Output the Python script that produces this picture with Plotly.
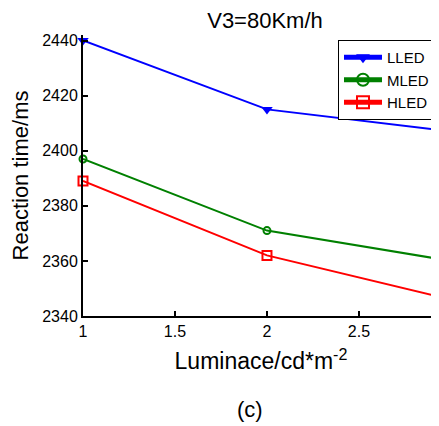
import plotly.graph_objects as go

luminance = [1, 2, 3]
lled = [2440, 2415, 2407]
mled = [2397, 2371, 2360]
hled = [2389, 2362, 2346]
x_ticks = [1, 1.5, 2, 2.5]
y_ticks = [2340, 2360, 2380, 2400, 2420, 2440]

FONT = "Liberation Sans, Arial, sans-serif"
# page has an 8px body margin, so the figure is sized to fit the window after it
OFF = 8
W, H = 439 - OFF, 426 - OFF
L, R, T, B = 83 - OFF, 0, 35 - OFF, 110
PLOT_H = H - T - B
PLOT_W = W - L - R
BOTTOM = H - B


def py(screen_y):
    return (BOTTOM - (screen_y - OFF)) / PLOT_H


def px(screen_x):
    return (screen_x - OFF - L) / PLOT_W


fig = go.Figure()
fig.add_trace(go.Scatter(x=luminance, y=lled, name="LLED", mode="lines+markers",
                         line=dict(color="#0000FF", width=2), cliponaxis=False,
                         marker=dict(symbol="triangle-down", size=10, color="#0000FF")))
fig.add_trace(go.Scatter(x=luminance, y=mled, name="MLED", mode="lines+markers",
                         line=dict(color="#008000", width=2), cliponaxis=False,
                         marker=dict(symbol="circle-open", size=7, color="#008000",
                                     line=dict(width=2, color="#008000"))))
fig.add_trace(go.Scatter(x=luminance, y=hled, name="HLED", mode="lines+markers",
                         line=dict(color="#FF0000", width=2), cliponaxis=False,
                         marker=dict(symbol="square-open", size=9, color="#FF0000",
                                     line=dict(width=2, color="#FF0000"))))

fig.update_layout(
    width=W, height=H,
    margin=dict(l=L, r=R, t=T, b=B, autoexpand=False),
    paper_bgcolor="white", plot_bgcolor="white",
    font=dict(family=FONT, color="black"),
    title=dict(text="V3=80Km/h", x=px(265), xref="paper", y=1 - (20 - OFF) / H, yref="container",
               xanchor="center", yanchor="middle", font=dict(size=22)),
    legend=dict(x=px(435), y=py(40), xanchor="right", yanchor="top",
                bordercolor="black", borderwidth=1, bgcolor="white",
                font=dict(size=15), tracegroupgap=0, itemsizing="constant",
                itemwidth=38),
    xaxis=dict(range=[1, 2.935], tickvals=x_ticks, ticktext=["1", "1.5", "2", "2.5"],
               showline=True, linecolor="black", linewidth=2, mirror=False,
               ticks="inside", ticklen=5, tickwidth=2, tickcolor="black",
               showgrid=False, zeroline=False, tickfont=dict(size=16), automargin=False,
               title=dict(text="Luminace/cd*m<sup>-2</sup>", font=dict(size=23), standoff=14)),
    yaxis=dict(range=[2340, 2442], tickvals=y_ticks,
               showline=True, linecolor="black", linewidth=2,
               ticks="inside", ticklen=5, tickwidth=2, tickcolor="black",
               showgrid=False, zeroline=False, tickfont=dict(size=16), automargin=False,
               title=dict(text="Reaction time/ms", font=dict(size=22), standoff=8)),
    annotations=[dict(text="(c)", x=px(250), y=py(409), xref="paper", yref="paper",
                      xanchor="center", yanchor="middle",
                      showarrow=False, font=dict(size=22))],
)

fig.write_html("out.html")
